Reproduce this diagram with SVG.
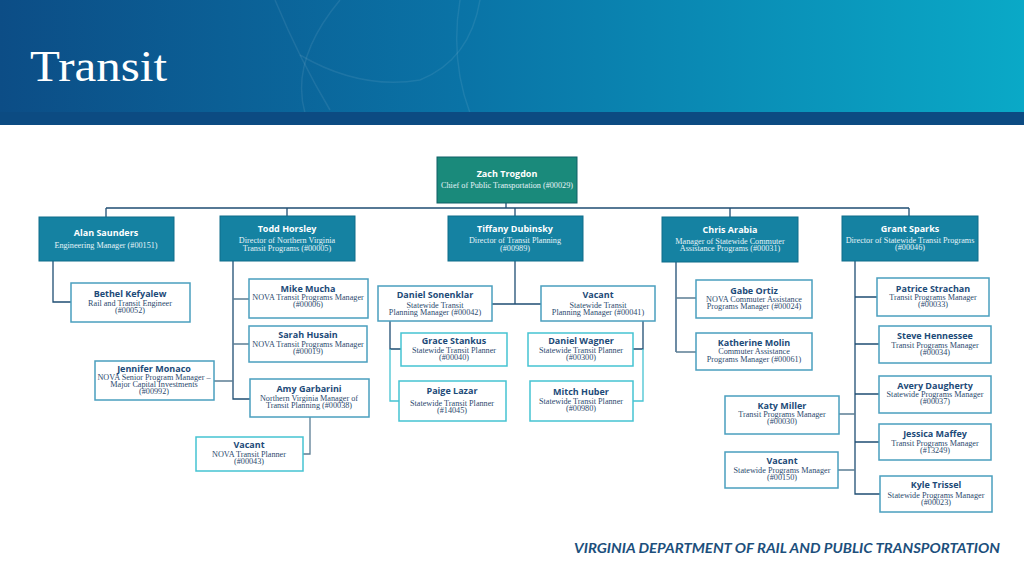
<svg xmlns="http://www.w3.org/2000/svg" width="1024" height="576" viewBox="0 0 1024 576">
<defs>
<linearGradient id="hdr" x1="0" y1="0" x2="1" y2="0">
<stop offset="0" stop-color="#0c4d86"/>
<stop offset="0.45" stop-color="#0a73a6"/>
<stop offset="1" stop-color="#0aa9c7"/>
</linearGradient>
</defs>
<style>
.top{fill:#1a8a7b;stroke:#0f5f66;stroke-width:1}
.mgr{fill:#1582a2;stroke:#0f6c8a;stroke-width:1}
.c1{fill:#ffffff;stroke:#4a9fbe;stroke-width:1.5}
.c2{fill:#ffffff;stroke:#45c3d2;stroke-width:1.5}
.nw{font-family:"Open Sans","Noto Sans",sans-serif;font-weight:700;font-size:9px;fill:#ffffff;text-anchor:middle}
.sw{font-family:"Liberation Serif","DejaVu Serif",serif;font-size:8.2px;fill:#e6f3f8;text-anchor:middle}
.n{font-family:"Open Sans","Noto Sans",sans-serif;font-weight:700;font-size:9px;fill:#1c4a78;text-anchor:middle}
.s{font-family:"Liberation Serif","DejaVu Serif",serif;font-size:8.2px;fill:#2c4a6e;text-anchor:middle}
.ld{fill:none;stroke:#1f4e73;stroke-width:1.3}
.ls{fill:none;stroke:#5b7d94;stroke-width:1.3}
.lc{fill:none;stroke:#45c3d2;stroke-width:1.3}
</style>
<rect x="0" y="0" width="1024" height="113" fill="url(#hdr)"/>
<g fill="none" stroke="#ffffff" stroke-opacity="0.08" stroke-width="1.5">
<path d="M275 0 Q300 60 330 110"/>
<path d="M340 0 Q290 60 305 113"/>
<path d="M300 55 Q360 90 420 80 Q470 60 480 0"/>
<path d="M460 0 Q450 60 470 113"/>
</g>
<rect x="0" y="112" width="1024" height="13" fill="#0c4b82"/>
<text x="30" y="81" font-family="Liberation Serif,serif" font-size="45" fill="#ffffff" textLength="137" lengthAdjust="spacingAndGlyphs">Transit</text>

<g id="connectors">
<path class="ld" d="M506 203V208M106 208H909M106 208V217M287 208V216M515 208V216M730 208V217M909 208V216"/>
<path class="ld" d="M53 261V302H71"/>
<path class="ld" d="M233 261V399H250"/>
<path class="ls" d="M233 299H249M233 344H249M214 381H233"/>
<path class="ls" d="M310 417V454H303"/>
<path class="ld" d="M515 261V304M492 304H541"/>
<path class="ld" d="M390 321V349H401"/>
<path class="lc" d="M390 349V401H399"/>
<path class="ld" d="M643 321V349H633"/>
<path class="lc" d="M643 349V401H633"/>
<path class="ld" d="M676 262V352"/>
<path class="ls" d="M676 298H696M676 352H696"/>
<path class="ld" d="M855 261V494H880"/>
<path class="ld" d="M855 297H877M855 344H879M855 394H879M855 442H879"/>
<path class="ls" d="M839 414H855M838 470H855"/>
</g>

<g id="zach"><rect class="top" x="437" y="157" width="140" height="46"/>
<text class="nw" x="507" y="177">Zach Trogdon</text>
<text class="sw" x="507" y="188">Chief of Public Transportation (#00029)</text></g>

<g id="alan"><rect class="mgr" x="39" y="217" width="135" height="44"/>
<text class="nw" x="106" y="236">Alan Saunders</text>
<text class="sw" x="106" y="248">Engineering Manager (#00151)</text></g>

<g id="todd"><rect class="mgr" x="220" y="216" width="135" height="45"/>
<text class="nw" x="287" y="232">Todd Horsley</text>
<text class="sw" x="287" y="243">Director of Northern Virginia</text>
<text class="sw" x="287" y="251">Transit Programs (#00005)</text></g>

<g id="tiffany"><rect class="mgr" x="448" y="216" width="135" height="45"/>
<text class="nw" x="515" y="232">Tiffany Dubinsky</text>
<text class="sw" x="515" y="243">Director of Transit Planning</text>
<text class="sw" x="515" y="251">(#00989)</text></g>

<g id="chris"><rect class="mgr" x="662" y="217" width="136" height="45"/>
<text class="nw" x="730" y="233">Chris Arabia</text>
<text class="sw" x="730" y="244">Manager of Statewide Commuter</text>
<text class="sw" x="730" y="251">Assistance Programs (#00031)</text></g>

<g id="grant"><rect class="mgr" x="842" y="216" width="136" height="45"/>
<text class="nw" x="910" y="232">Grant Sparks</text>
<text class="sw" x="910" y="243">Director of Statewide Transit Programs</text>
<text class="sw" x="910" y="250">(#00046)</text></g>

<g id="bethel"><rect class="c1" x="71" y="283" width="119" height="39"/>
<text class="n" x="130" y="297">Bethel Kefyalew</text>
<text class="s" x="130" y="306">Rail and Transit Engineer</text>
<text class="s" x="130" y="313">(#00052)</text></g>

<g id="mike"><rect class="c1" x="249" y="279" width="119" height="39"/>
<text class="n" x="308" y="292">Mike Mucha</text>
<text class="s" x="308" y="300">NOVA Transit Programs Manager</text>
<text class="s" x="308" y="307">(#00006)</text></g>

<g id="sarah"><rect class="c1" x="249" y="326" width="118" height="36"/>
<text class="n" x="308" y="338">Sarah Husain</text>
<text class="s" x="308" y="347">NOVA Transit Programs Manager</text>
<text class="s" x="308" y="354">(#00019)</text></g>

<g id="jennifer"><rect class="c1" x="95" y="361" width="119" height="39"/>
<text class="n" x="154" y="372">Jennifer Monaco</text>
<text class="s" x="154" y="380">NOVA Senior Program Manager –</text>
<text class="s" x="154" y="387">Major Capital Investments</text>
<text class="s" x="154" y="394">(#00992)</text></g>

<g id="amy"><rect class="c1" x="250" y="379" width="119" height="38"/>
<text class="n" x="309" y="392">Amy Garbarini</text>
<text class="s" x="309" y="401">Northern Virginia Manager of</text>
<text class="s" x="309" y="408">Transit Planning (#00038)</text></g>

<g id="vacant-nova"><rect class="c2" x="196" y="437" width="107" height="34"/>
<text class="n" x="249" y="448">Vacant</text>
<text class="s" x="249" y="457">NOVA Transit Planner</text>
<text class="s" x="249" y="464">(#00043)</text></g>

<g id="daniel-s"><rect class="c1" x="378" y="286" width="114" height="35"/>
<text class="n" x="435" y="298">Daniel Sonenklar</text>
<text class="s" x="435" y="308">Statewide Transit</text>
<text class="s" x="435" y="315">Planning Manager (#00042)</text></g>

<g id="vacant-plan"><rect class="c1" x="541" y="286" width="114" height="35"/>
<text class="n" x="598" y="298">Vacant</text>
<text class="s" x="598" y="308">Statewide Transit</text>
<text class="s" x="598" y="315">Planning Manager (#00041)</text></g>

<g id="grace"><rect class="c2" x="401" y="333" width="106" height="33"/>
<text class="n" x="454" y="344">Grace Stankus</text>
<text class="s" x="454" y="353">Statewide Transit Planner</text>
<text class="s" x="454" y="360">(#00040)</text></g>

<g id="paige"><rect class="c2" x="399" y="381" width="107" height="40"/>
<text class="n" x="452" y="394">Paige Lazar</text>
<text class="s" x="452" y="406">Statewide Transit Planner</text>
<text class="s" x="452" y="413">(#14045)</text></g>

<g id="daniel-w"><rect class="c2" x="528" y="333" width="105" height="33"/>
<text class="n" x="581" y="344">Daniel Wagner</text>
<text class="s" x="581" y="353">Statewide Transit Planner</text>
<text class="s" x="581" y="360">(#00300)</text></g>

<g id="mitch"><rect class="c2" x="530" y="381" width="103" height="40"/>
<text class="n" x="581" y="395">Mitch Huber</text>
<text class="s" x="581" y="404">Statewide Transit Planner</text>
<text class="s" x="581" y="411">(#00980)</text></g>

<g id="gabe"><rect class="c1" x="696" y="280" width="116" height="38"/>
<text class="n" x="754" y="294">Gabe Ortiz</text>
<text class="s" x="754" y="302">NOVA Commuter Assistance</text>
<text class="s" x="754" y="309">Programs Manager (#00024)</text></g>

<g id="katherine"><rect class="c1" x="696" y="333" width="116" height="37"/>
<text class="n" x="754" y="346">Katherine Molin</text>
<text class="s" x="754" y="354">Commuter Assistance</text>
<text class="s" x="754" y="362">Programs Manager (#00061)</text></g>

<g id="patrice"><rect class="c1" x="877" y="278" width="112" height="38"/>
<text class="n" x="933" y="292">Patrice Strachan</text>
<text class="s" x="933" y="300">Transit Programs Manager</text>
<text class="s" x="933" y="307">(#00033)</text></g>

<g id="steve"><rect class="c1" x="879" y="326" width="112" height="37"/>
<text class="n" x="935" y="339">Steve Hennessee</text>
<text class="s" x="935" y="348">Transit Programs Manager</text>
<text class="s" x="935" y="355">(#00034)</text></g>

<g id="avery"><rect class="c1" x="879" y="376" width="112" height="37"/>
<text class="n" x="935" y="389">Avery Daugherty</text>
<text class="s" x="935" y="397">Statewide Programs Manager</text>
<text class="s" x="935" y="404">(#00037)</text></g>

<g id="katy"><rect class="c1" x="725" y="396" width="114" height="38"/>
<text class="n" x="782" y="409">Katy Miller</text>
<text class="s" x="782" y="417">Transit Programs Manager</text>
<text class="s" x="782" y="424">(#00030)</text></g>

<g id="jessica"><rect class="c1" x="879" y="424" width="112" height="36"/>
<text class="n" x="935" y="437">Jessica Maffey</text>
<text class="s" x="935" y="446">Transit Programs Manager</text>
<text class="s" x="935" y="453">(#13249)</text></g>

<g id="vacant-state"><rect class="c1" x="725" y="452" width="113" height="36"/>
<text class="n" x="782" y="464">Vacant</text>
<text class="s" x="782" y="473">Statewide Programs Manager</text>
<text class="s" x="782" y="480">(#00150)</text></g>

<g id="kyle"><rect class="c1" x="880" y="476" width="112" height="36"/>
<text class="n" x="936" y="488">Kyle Trissel</text>
<text class="s" x="936" y="498">Statewide Programs Manager</text>
<text class="s" x="936" y="505">(#00023)</text></g>

<text x="574" y="553" font-family="Lato,'Open Sans',sans-serif" font-weight="700" font-style="italic" font-size="13" fill="#1c4f7c" textLength="426" lengthAdjust="spacingAndGlyphs">VIRGINIA DEPARTMENT OF RAIL AND PUBLIC TRANSPORTATION</text>
</svg>
